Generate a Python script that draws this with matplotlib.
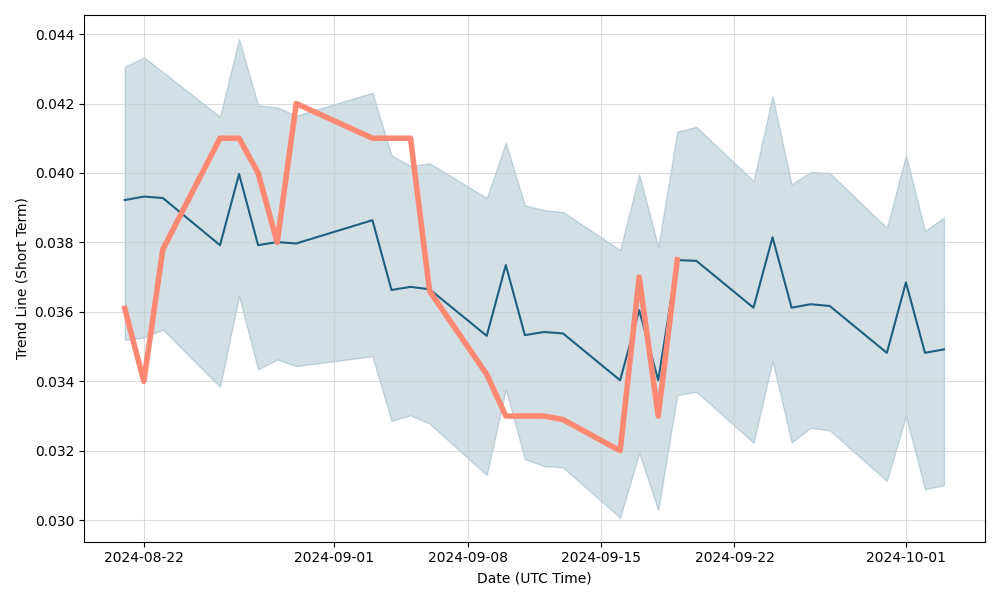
import matplotlib
matplotlib.use("Agg")
import matplotlib.pyplot as plt
import matplotlib.dates as mdates
import pandas as pd

dates = ["2024-08-21", "2024-08-22", "2024-08-23", "2024-08-26", "2024-08-27", "2024-08-28",
         "2024-08-29", "2024-08-30", "2024-09-03", "2024-09-04", "2024-09-05", "2024-09-06",
         "2024-09-09", "2024-09-10", "2024-09-11", "2024-09-12", "2024-09-13", "2024-09-16",
         "2024-09-17", "2024-09-18", "2024-09-19", "2024-09-20", "2024-09-23", "2024-09-24",
         "2024-09-25", "2024-09-26", "2024-09-27", "2024-09-30", "2024-10-01", "2024-10-02",
         "2024-10-03"]

mean_line = [0.03922, 0.03932, 0.03928, 0.03792, 0.03997, 0.03792, 0.03801, 0.03797,
             0.03864, 0.03663, 0.03672, 0.03665, 0.03531, 0.03735, 0.03533, 0.03542,
             0.03538, 0.03403, 0.03605, 0.03403, 0.03749, 0.03747, 0.03612, 0.03815,
             0.03612, 0.03622, 0.03617, 0.03482, 0.03685, 0.03482, 0.03492]

upper_band = [0.04306, 0.04333, 0.04291, 0.04162, 0.04386, 0.04195, 0.04189, 0.04165,
              0.04231, 0.04051, 0.04020, 0.04028, 0.03928, 0.04087, 0.03907, 0.03893,
              0.03888, 0.03778, 0.03996, 0.03787, 0.04119, 0.04133, 0.03977, 0.04221,
              0.03967, 0.04003, 0.04000, 0.03842, 0.04051, 0.03833, 0.03872]

lower_band = [0.03519, 0.03526, 0.03549, 0.03384, 0.03645, 0.03434, 0.03463, 0.03444,
              0.03472, 0.03286, 0.03302, 0.03278, 0.03130, 0.03377, 0.03176, 0.03156,
              0.03152, 0.03007, 0.03194, 0.03029, 0.03360, 0.03370, 0.03223, 0.03458,
              0.03224, 0.03266, 0.03259, 0.03113, 0.03300, 0.03089, 0.03101]

trend_dates = ["2024-08-21", "2024-08-22", "2024-08-23", "2024-08-26", "2024-08-27", "2024-08-28",
               "2024-08-29", "2024-08-30", "2024-09-03", "2024-09-04", "2024-09-05", "2024-09-06",
               "2024-09-09", "2024-09-10", "2024-09-11", "2024-09-12", "2024-09-13", "2024-09-16",
               "2024-09-17", "2024-09-18", "2024-09-19"]
trend_values = [0.0361, 0.0340, 0.0378, 0.0410, 0.0410, 0.0400, 0.0380, 0.0420, 0.0410, 0.0410,
                0.0410, 0.0366, 0.0342, 0.0330, 0.0330, 0.0330, 0.0329, 0.0320, 0.0370, 0.0330,
                0.0375]

xticks = ["2024-08-22", "2024-09-01", "2024-09-08", "2024-09-15", "2024-09-22", "2024-10-01"]

x = pd.to_datetime(dates)
xt = pd.to_datetime(trend_dates)

fig, ax = plt.subplots(figsize=(10, 6), dpi=100)
blue = "#1f5f80"
ax.fill_between(x, lower_band, upper_band, color=blue, alpha=0.2, linewidth=1)
ax.plot(x, mean_line, color=blue, linewidth=1.5)
ax.plot(xt, trend_values, color="#ff8872", linewidth=4)

ax.set_xticks(pd.to_datetime(xticks))
ax.xaxis.set_major_formatter(mdates.DateFormatter("%Y-%m-%d"))
ax.grid(True, color="#cccccc", alpha=0.7, linewidth=0.8)
ax.set_xlabel("Date (UTC Time)")
ax.set_ylabel("Trend Line (Short Term)")
ax.yaxis.set_major_formatter(matplotlib.ticker.FormatStrFormatter("%.3f"))
fig.tight_layout()
fig.savefig("out.png", dpi=100)
